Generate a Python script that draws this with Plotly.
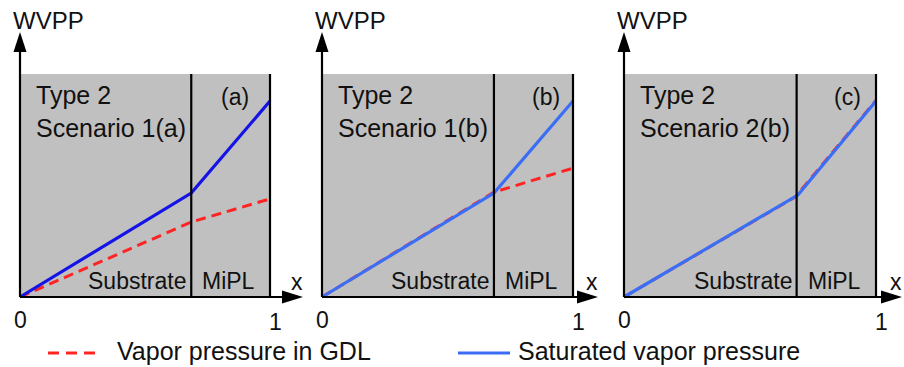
import plotly.graph_objects as go

# ---------------- data ----------------
x_nodes = [0, 0.685, 1]          # GDL coordinate: 0, substrate/MiPL interface, 1
panel_tags = ["(a)", "(b)", "(c)"]
panel_titles = ["Type 2<br>Scenario 1(a)", "Type 2<br>Scenario 1(b)", "Type 2<br>Scenario 2(b)"]

sat_a = [0, 0.466, 0.879]
vap_a = [0, 0.336, 0.440]
sat_b = [0, 0.466, 0.879]
vap_b = [0, 0.470, 0.578]
x_sat_c = [0, 0.69, 1]
sat_c = [0, 0.457, 0.879]
x_vap_c = [0, 0.68, 1]
vap_c = [0, 0.449, 0.882]

legend_names = ["Vapor pressure in GDL", "Saturated vapor pressure"]
x_ticks = ["0", "1"]

# ---------------- styling / geometry ----------------
W, H = 904, 367
FONT = "Liberation Sans, Arial, sans-serif"
GRAY = "#c0c0c0"
RED = "#ff2424"
BLUE_DARK = "#1414e6"
BLUE = "#3b6ef5"
TXT = "#111111"

origins = [20, 322, 624]       # pixel x of origin per panel
scales = [250, 251, 252]       # pixels per x unit
xtips = [283, 276, 278]        # pixel distance of x-arrow tip from origin
tag_right = [0.925, 0.956, 0.948]
OY = 297                        # pixel y of origin
SY = 223                        # pixels per y unit

fig = go.Figure()

series = [
    (x_nodes, vap_a, x_nodes, sat_a, BLUE_DARK),
    (x_nodes, vap_b, x_nodes, sat_b, BLUE),
    (x_vap_c, vap_c, x_sat_c, sat_c, BLUE),
]

shapes = []
annotations = []
layout_axes = {}

for i in range(3):
    ox, sx = origins[i], scales[i]
    dx0, dx1 = max(0, ox - 18), min(W, ox + 292)
    dy_top, dy_bot = 2, 340
    xa = "x" if i == 0 else f"x{i+1}"
    ya = "y" if i == 0 else f"y{i+1}"
    xkey = "xaxis" if i == 0 else f"xaxis{i+1}"
    ykey = "yaxis" if i == 0 else f"yaxis{i+1}"
    layout_axes[xkey] = dict(domain=[dx0 / W, dx1 / W], range=[(dx0 - ox) / sx, (dx1 - ox) / sx],
                             visible=False, anchor=ya, fixedrange=True)
    layout_axes[ykey] = dict(domain=[1 - dy_bot / H, 1 - dy_top / H],
                             range=[(OY - dy_bot) / SY, (OY - dy_top) / SY],
                             visible=False, anchor=xa, fixedrange=True)

    xv, yv, xs, ys, bcol = series[i]
    # gray background
    shapes.append(dict(type="rect", xref=xa, yref=ya, x0=0, x1=1, y0=0, y1=1,
                       fillcolor=GRAY, line=dict(width=0), layer="below"))
    # dividers
    xi = x_nodes[1]
    for xx in (xi, 1):
        shapes.append(dict(type="line", xref=xa, yref=ya, x0=xx, x1=xx, y0=0, y1=1,
                           line=dict(color="black", width=2.2)))
    # axes with arrowheads
    ybase = (OY - 52) / SY
    ytip = (OY - 32) / SY
    hw = 6.5 / sx
    shapes.append(dict(type="line", xref=xa, yref=ya, x0=0, x1=0, y0=0, y1=ybase + 0.01,
                       line=dict(color="black", width=2.2)))
    shapes.append(dict(type="path", xref=xa, yref=ya,
                       path=f"M {-hw} {ybase} L {hw} {ybase} L 0 {ytip} Z",
                       fillcolor="black", line=dict(width=0)))
    xtip = xtips[i] / sx
    xbase = (xtips[i] - 21) / sx
    hh = 6.5 / SY
    shapes.append(dict(type="line", xref=xa, yref=ya, x0=0, x1=xbase + 0.01, y0=0, y1=0,
                       line=dict(color="black", width=2.2)))
    shapes.append(dict(type="path", xref=xa, yref=ya,
                       path=f"M {xbase} {-hh} L {xbase} {hh} L {xtip} 0 Z",
                       fillcolor="black", line=dict(width=0)))

    # curves
    fig.add_trace(go.Scatter(x=xv, y=yv, mode="lines", xaxis=xa, yaxis=ya, showlegend=False,
                             line=dict(color=RED, width=3, dash="10px,6px"), hoverinfo="skip"))
    fig.add_trace(go.Scatter(x=xs, y=ys, mode="lines", xaxis=xa, yaxis=ya, showlegend=False,
                             line=dict(color=bcol, width=3.2), hoverinfo="skip"))

    def ann(text, x, y, xanchor="center", yanchor="middle", size=23, align="left"):
        annotations.append(dict(text=text, x=x, y=y, xref=xa, yref=ya, showarrow=False,
                                xanchor=xanchor, yanchor=yanchor, align=align,
                                font=dict(family=FONT, size=size, color=TXT)))

    ann("WVPP", -9 / sx, (OY - 21) / SY, xanchor="left", size=24)
    ann(panel_titles[i], 14 / sx, (OY - 112) / SY, xanchor="left", size=25)
    ann(panel_tags[i], tag_right[i], (OY - 97) / SY, xanchor="right", size=23)
    ann("Substrate", xi - 3 / sx, 16 / SY, xanchor="right", size=23)
    ann("MiPL", xi + 9 / sx, 16 / SY, xanchor="left", size=23)
    ann("x", (xtips[i] - 6) / sx, 15 / SY, size=23)
    ann(x_ticks[0], 0, -23 / SY, size=23)
    ann(x_ticks[1], 1 + 5 / sx, -25 / SY, size=23)

# manual legend (paper coords)
ly = 1 - 353 / H
shapes.append(dict(type="line", xref="paper", yref="paper", x0=48 / W, x1=96 / W, y0=ly, y1=ly,
                   line=dict(color=RED, width=3, dash="11px,7px")))
shapes.append(dict(type="line", xref="paper", yref="paper", x0=458 / W, x1=510 / W, y0=ly, y1=ly,
                   line=dict(color=BLUE, width=3)))
annotations.append(dict(text=legend_names[0], x=115 / W, y=1 - 351 / H, xref="paper", yref="paper",
                        showarrow=False, xanchor="left", yanchor="middle",
                        font=dict(family=FONT, size=25, color=TXT)))
annotations.append(dict(text=legend_names[1], x=516 / W, y=1 - 351 / H, xref="paper", yref="paper",
                        showarrow=False, xanchor="left", yanchor="middle",
                        font=dict(family=FONT, size=25, color=TXT)))

fig.update_layout(width=W, height=H, margin=dict(l=0, r=0, t=0, b=0),
                  paper_bgcolor="white", plot_bgcolor="rgba(0,0,0,0)",
                  shapes=shapes, annotations=annotations, showlegend=False, **layout_axes)

fig.write_html("out.html", config={"displayModeBar": False},
               post_script="document.body.style.margin='0';document.body.style.padding='0';")
